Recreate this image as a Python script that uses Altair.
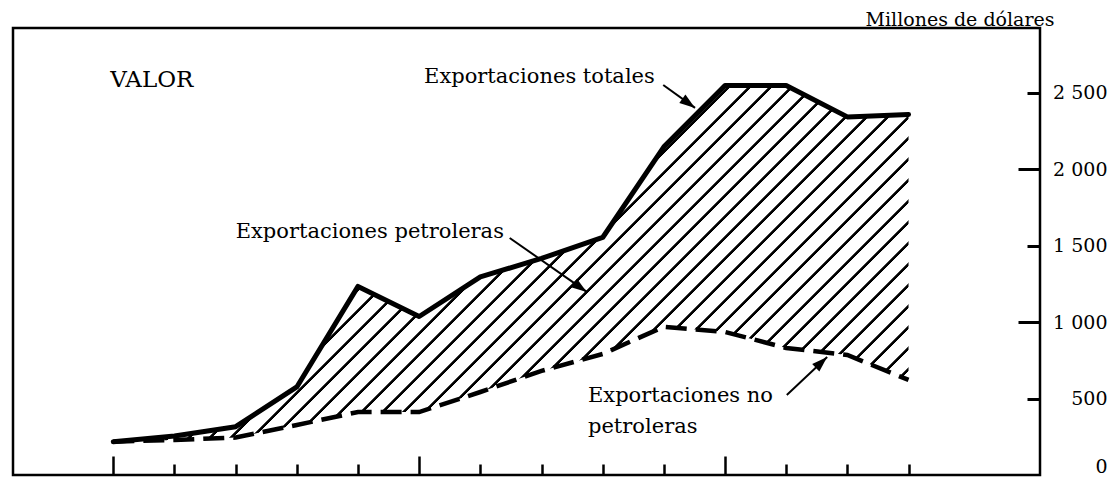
import math
import altair as alt
import pandas as pd

# ---------------- data ----------------
years = [1970, 1971, 1972, 1973, 1974, 1975, 1976, 1977, 1978, 1979, 1980, 1981, 1982, 1983]
totales = [218, 255, 316, 576, 1234, 1037, 1296, 1417, 1554, 2147, 2549, 2549, 2343, 2359]
no_petroleras = [218, 229, 245, 327, 412, 412, 543, 681, 792, 970, 936, 831, 785, 622]

y_ticks_long = [1000, 2000]
y_ticks_short = [500, 1500, 2500]
y_tick_zero = [0]
x_ticks_long = [1970, 1975, 1980]
x_ticks_short = [1971, 1972, 1973, 1974, 1976, 1977, 1978, 1979, 1981, 1982, 1983]

note_text = ["Exportaciones totales", "Exportaciones petroleras",
             "Exportaciones no", "petroleras"]
note_year = [1975.08, 1972.0, 1977.76, 1977.76]
note_value = [2565, 1551, 478, 275]

heading_text = ["VALOR"]
heading_year = [1969.95]
heading_value = [2539]

arrow_from_year = [1978.99, 1976.48, 1981.01]
arrow_from_value = [2552, 1551, 524]
arrow_to_year = [1979.51, 1977.74, 1981.67]
arrow_to_value = [2402, 1198, 772]

# ---------------- layout ----------------
W, H = 1027, 447
PX_PER_VALUE = 0.15284
X_DOMAIN = [1968.36, 1968.36 + W / 61.17]
Y_DOMAIN = [0, H / PX_PER_VALUE]
px_year = W / (X_DOMAIN[1] - X_DOMAIN[0])
px_value = H / (Y_DOMAIN[1] - Y_DOMAIN[0])
LABEL_RIGHT = 67  # label right edge, pixels right of the axis line

FONT = "DejaVu Serif"

xs = alt.Scale(domain=X_DOMAIN, nice=False, zero=False)
ys = alt.Scale(domain=Y_DOMAIN, nice=False, zero=False)

# ---------------- hatch fill (45 degree stripes as a gradient) ----------------
gw = (max(years) - min(years)) * px_year
gh = (max(totales) - min(no_petroleras)) * px_value
span = gw + gh
cf = span / (gw ** 2 + gh ** 2)
spacing, half, soft = 21.0, 1.5, 0.8
stops = [alt.GradientStop(offset=0.0, color="white")]
pos = 8.0
while pos - half - soft < span:
    for o, col in ((pos - half - soft, "white"), (pos - half, "black"),
                   (pos + half, "black"), (pos + half + soft, "white")):
        stops.append(alt.GradientStop(offset=round(min(max(o / span, 0.0), 1.0), 6), color=col))
    pos += spacing
stops.append(alt.GradientStop(offset=1.0, color="white"))
hatch = alt.LinearGradient(gradient="linear", stops=stops,
                           x1=0, y1=0, x2=round(cf * gw, 6), y2=round(cf * gh, 6))

# ---------------- tables ----------------
df = pd.DataFrame({"year": years, "total": totales, "nonpet": no_petroleras})
notes = pd.DataFrame({"text": note_text, "year": note_year, "value": note_value})
heading = pd.DataFrame({"text": heading_text, "year": heading_year, "value": heading_value})
angles = []
for x0, y0, x1, y1 in zip(arrow_from_year, arrow_from_value, arrow_to_year, arrow_to_value):
    dx = (x1 - x0) * px_year
    dy = -(y1 - y0) * px_value
    angles.append(math.degrees(math.atan2(dx, -dy)))
arrows = pd.DataFrame({"x": arrow_from_year, "y": arrow_from_value,
                       "x2": arrow_to_year, "y2": arrow_to_value, "angle": angles})

# ---------------- axes (drawn inward: bottom and right of the frame) ----------------
def x_axis(values, size):
    return alt.Axis(orient="top", offset=-H, values=values, labels=False, domain=False,
                    grid=False, title=None, tickColor="black", tickWidth=2.5, tickSize=size)


label_style = dict(labelAlign="right", labelBaseline="middle", labelFont=FONT,
                   labelFontSize=19, labelColor="black", labelOverlap=False,
                   labelExpr="replace(format(datum.value, ','), ',', ' ')")

y_axis_long = alt.Axis(
    orient="left", offset=-W, values=y_ticks_long, domain=False, grid=False,
    tickColor="black", tickWidth=3, tickSize=22, labelPadding=-(LABEL_RIGHT + 22),
    title="Millones de dólares", titleAngle=0, titleX=14, titleY=-3,
    titleAlign="right", titleBaseline="alphabetic", titleFont=FONT,
    titleFontSize=19, titleFontWeight="normal", titleColor="black",
    **label_style,
)
y_axis_short = alt.Axis(
    orient="left", offset=-W, values=y_ticks_short, domain=False, grid=False,
    tickColor="black", tickWidth=3, tickSize=13, labelPadding=-(LABEL_RIGHT + 13),
    title=None, **label_style,
)
y_axis_zero = alt.Axis(
    orient="left", offset=-W, values=y_tick_zero, domain=False, grid=False,
    ticks=False, labelPadding=-LABEL_RIGHT, labelOffset=-9, title=None, **label_style,
)

# ---------------- layers ----------------
area = alt.Chart(df).mark_area(fill=hatch, opacity=1).encode(
    x=alt.X("year:Q", scale=xs, axis=x_axis(x_ticks_long, 19)),
    y=alt.Y("total:Q", scale=ys, axis=y_axis_long),
    y2=alt.Y2("nonpet:Q"),
)

line_total = alt.Chart(df).mark_line(
    color="black", strokeWidth=5, strokeJoin="round", strokeCap="round"
).encode(
    x=alt.X("year:Q", scale=xs, axis=x_axis(x_ticks_short, 11)),
    y=alt.Y("total:Q", scale=ys, axis=y_axis_short),
)

line_nonpet = alt.Chart(df).mark_line(
    color="black", strokeWidth=4.5, strokeDash=[21, 9]
).encode(
    x=alt.X("year:Q", scale=xs, axis=None),
    y=alt.Y("nonpet:Q", scale=ys, axis=y_axis_zero),
)

arrow_shafts = alt.Chart(arrows).mark_rule(color="black", strokeWidth=2).encode(
    x=alt.X("x:Q", scale=xs, axis=None),
    y=alt.Y("y:Q", scale=ys, axis=None),
    x2="x2:Q",
    y2="y2:Q",
)

arrow_heads = alt.Chart(arrows).mark_point(
    shape="M0,0L0.8,2.4L-0.8,2.4Z", filled=True, size=170, color="black", opacity=1
).encode(
    x=alt.X("x2:Q", scale=xs, axis=None),
    y=alt.Y("y2:Q", scale=ys, axis=None),
    angle=alt.Angle("angle:Q", scale=None),
)

texts = alt.Chart(notes).mark_text(
    align="left", baseline="alphabetic", font=FONT, fontSize=21, color="black"
).encode(
    x=alt.X("year:Q", scale=xs, axis=None),
    y=alt.Y("value:Q", scale=ys, axis=None),
    text="text:N",
)

heading_text_mark = alt.Chart(heading).mark_text(
    align="left", baseline="alphabetic", font=FONT, fontSize=23, color="black"
).encode(
    x=alt.X("year:Q", scale=xs, axis=None),
    y=alt.Y("value:Q", scale=ys, axis=None),
    text="text:N",
)

chart = alt.layer(
    area, line_total, line_nonpet, arrow_shafts, arrow_heads, texts, heading_text_mark
).resolve_axis(
    x="independent", y="independent"
).properties(
    width=W, height=H,
    autosize=alt.AutoSizeParams(type="none"),
    padding={"left": 5, "top": 20, "right": 68, "bottom": 4},
    background="white",
).configure_view(
    stroke="black", strokeWidth=2.5
)

chart.save("out.html", embed_options={"renderer": "svg", "actions": False})
